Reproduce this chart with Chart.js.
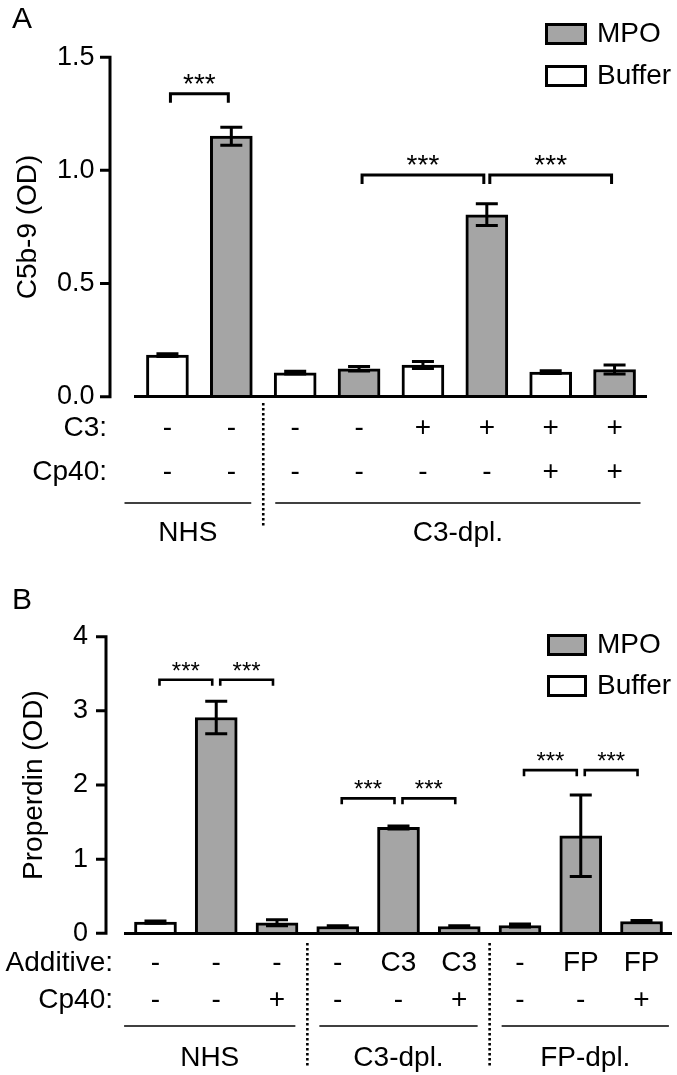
<!DOCTYPE html>
<html>
<head>
<meta charset="utf-8">
<script src="https://cdn.jsdelivr.net/npm/chart.js@4.4.0/dist/chart.umd.min.js"></script>
<style>
  html, body { margin: 0; padding: 0; background: #fff; }
  .panel { position: absolute; left: 0; width: 677px; }
  #wrapA { top: 0; height: 560px; }
  #wrapB { top: 560px; height: 515px; }
</style>
</head>
<body>
<div class="panel" id="wrapA"><canvas id="chartA" width="677" height="560"></canvas></div>
<div class="panel" id="wrapB"><canvas id="chartB" width="677" height="515"></canvas></div>
<script>
// ---- Panel A: C5b-9 (OD) ----
const aTreatment = ['Buffer', 'MPO', 'Buffer', 'MPO', 'Buffer', 'MPO', 'Buffer', 'MPO'];
const aC3 = ['-', '-', '-', '-', '+', '+', '+', '+'];
const aCp40 = ['-', '-', '-', '-', '-', '-', '+', '+'];
const aMeans = [0.184, 1.151, 0.106, 0.123, 0.140, 0.804, 0.109, 0.120];
const aErrors = [0.006, 0.040, 0.006, 0.010, 0.015, 0.048, 0.006, 0.020];
const aGroups = ['NHS', 'C3-dpl.'];
const aGroupRanges = [[0, 1], [2, 7]];
const aBrackets = [[0, 1, 1.338], [3, 5, 0.98], [5, 7, 0.98]]; // from bar, to bar, height
const aTicks = [0, 0.5, 1.0, 1.5];

// ---- Panel B: Properdin (OD) ----
const bTreatment = ['Buffer', 'MPO', 'MPO', 'MPO', 'MPO', 'MPO', 'MPO', 'MPO', 'MPO'];
const bAdditive = ['-', '-', '-', '-', 'C3', 'C3', '-', 'FP', 'FP'];
const bCp40 = ['-', '-', '+', '-', '-', '+', '-', '-', '+'];
const bMeans = [0.150, 2.91, 0.142, 0.092, 1.428, 0.092, 0.105, 1.316, 0.159];
const bErrors = [0.015, 0.22, 0.040, 0.010, 0.020, 0.010, 0.020, 0.55, 0.015];
const bGroups = ['NHS', 'C3-dpl.', 'FP-dpl.'];
const bGroupRanges = [[0, 2], [3, 5], [6, 8]];
const bBrackets = [[0, 1, 3.42], [1, 2, 3.42], [3, 4, 1.82], [4, 5, 1.82], [6, 7, 2.20], [7, 8, 2.20]];
const bTicks = [0, 1, 2, 3, 4];

const FONT = "'Liberation Sans', Arial, Helvetica, sans-serif";
const GREY = '#a5a5a5';
Chart.defaults.font.family = FONT;
Chart.defaults.color = '#000';

function onlyFor(name, treatment, values) {
  return values.map((v, i) => (treatment[i] === name ? v : null));
}

// extra drawing: y axis line, error bars, brackets, group labels, legend
const decor = {
  id: 'panelDecor',
  afterDatasetsDraw(chart, args, o) {
    const ctx = chart.ctx;
    const y = chart.scales.y;
    ctx.save();
    ctx.strokeStyle = '#000';
    ctx.lineWidth = 3;
    chart.data.datasets.forEach((ds, di) => {
      const meta = chart.getDatasetMeta(di);
      ds.data.forEach((v, i) => {
        if (v == null) return;
        const x = meta.data[i].x;
        const yTop = y.getPixelForValue(v + ds.errors[i]);
        const yBot = y.getPixelForValue(v - ds.errors[i]);
        ctx.beginPath();
        ctx.moveTo(x, yTop); ctx.lineTo(x, yBot);
        ctx.moveTo(x - 11, yTop); ctx.lineTo(x + 11, yTop);
        ctx.moveTo(x - 11, yBot); ctx.lineTo(x + 11, yBot);
        ctx.stroke();
      });
    });
    ctx.restore();
  },
  afterDraw(chart, args, o) {
    const ctx = chart.ctx;
    const xs = chart.scales.x, ys = chart.scales.y;
    const area = chart.chartArea;
    ctx.save();
    ctx.strokeStyle = '#000';
    ctx.fillStyle = '#000';

    // detached y axis with ticks
    const top = ys.getPixelForValue(ys.max), bottom = ys.getPixelForValue(0);
    ctx.lineWidth = 3;
    ctx.beginPath();
    ctx.moveTo(o.axisX, top - 1.5); ctx.lineTo(o.axisX, bottom + 1.5);
    ys.ticks.forEach(t => {
      const py = ys.getPixelForValue(t.value);
      ctx.moveTo(o.axisX - o.tickLen, py); ctx.lineTo(o.axisX, py);
    });
    ctx.stroke();

    // significance brackets
    ctx.lineWidth = o.bracketWidth;
    ctx.lineJoin = 'miter';
    ctx.textAlign = 'center';
    ctx.textBaseline = 'alphabetic';
    ctx.font = o.starSize + 'px ' + FONT;
    o.brackets.forEach(([a, b, v]) => {
      const x1 = xs.getPixelForValue(a) + o.bracketInset;
      const x2 = xs.getPixelForValue(b) - o.bracketInset;
      const py = ys.getPixelForValue(v);
      ctx.beginPath();
      ctx.moveTo(x1, py + o.leg); ctx.lineTo(x1, py); ctx.lineTo(x2, py); ctx.lineTo(x2, py + o.leg);
      ctx.stroke();
      ctx.fillText('***', (x1 + x2) / 2, py - 1);
    });

    // row headers for the x tick label rows
    const row1 = xs.top + o.xTickPad + o.rowGap / 2;
    ctx.font = '28px ' + FONT;
    ctx.textAlign = 'right';
    ctx.textBaseline = 'middle';
    ctx.fillText(o.rowNames[0], o.rowHeadX, row1);
    ctx.fillText(o.rowNames[1], o.rowHeadX, row1 + o.rowGap);

    // group lines, names and dotted separators
    const last = chart.data.labels.length - 1;
    ctx.textAlign = 'center';
    o.groupRanges.forEach(([a, b], gi) => {
      let left = xs.getPixelForValue(a - 0.5) + (a === 0 ? o.outerLeft : 12);
      let right = xs.getPixelForValue(b + 0.5) - (b === last ? o.outerRight : 12);
      const ly = area.bottom + o.groupLineDy;
      ctx.lineWidth = 1.7;
      ctx.beginPath();
      ctx.moveTo(left, ly); ctx.lineTo(right, ly);
      ctx.stroke();
      ctx.fillText(o.groups[gi], (left + right) / 2, area.bottom + o.groupTextDy);
      if (b !== last) {
        const sx = xs.getPixelForValue(b + 0.5);
        ctx.save();
        ctx.lineWidth = 2.6;
        ctx.setLineDash([2.6, 2.4]);
        ctx.beginPath();
        ctx.moveTo(sx, area.bottom + o.sepTop); ctx.lineTo(sx, area.bottom + o.sepBottom);
        ctx.stroke();
        ctx.restore();
      }
    });

    // legend
    ctx.textAlign = 'left';
    chart.data.datasets.forEach((ds, di) => {
      const by = o.legendY + di * o.legendGap;
      ctx.fillStyle = ds.backgroundColor;
      ctx.fillRect(o.legendX, by, o.boxW, 22);
      ctx.lineWidth = 3;
      ctx.strokeRect(o.legendX + 1.5, by + 1.5, o.boxW - 3, 19);
      ctx.fillStyle = '#000';
      ctx.fillText(ds.label, 597, by + 11);
    });

    // panel letter
    ctx.font = '30px ' + FONT;
    ctx.textBaseline = 'alphabetic';
    ctx.fillText(o.letter, 12, o.letterY);
    ctx.restore();
  }
};

function makePanel(id, p) {
  return new Chart(document.getElementById(id), {
    type: 'bar',
    data: {
      labels: p.rows[0].map((v, i) => [v, p.rows[1][i]]),
      datasets: ['MPO', 'Buffer'].map(name => ({
        label: name,
        data: onlyFor(name, p.treatment, p.means),
        errors: onlyFor(name, p.treatment, p.errors),
        backgroundColor: name === 'MPO' ? GREY : '#ffffff',
        borderColor: '#000',
        borderWidth: 3,
        barThickness: 42,
        grouped: false
      }))
    },
    options: {
      responsive: false,
      animation: false,
      layout: { padding: { top: p.padTop, right: p.padRight, left: 0, bottom: 0 } },
      plugins: {
        legend: { display: false },
        tooltip: { enabled: false },
        panelDecor: p.decor
      },
      scales: {
        x: {
          grid: { display: false, drawTicks: false },
          border: { display: true, color: '#000', width: 3, z: 1 },
          ticks: {
            autoSkip: false, maxRotation: 0, minRotation: 0,
            padding: p.decor.xTickPad,
            font: { size: 28, lineHeight: p.decor.rowGap / 28 }
          },
          afterFit: s => { s.height = p.xHeight; }
        },
        y: {
          min: 0,
          max: p.yMax,
          grid: { display: false, drawTicks: false },
          border: { display: false },
          afterBuildTicks: s => { s.ticks = p.ticks.map(v => ({ value: v })); },
          ticks: { padding: p.yTickPad, font: { size: 27 }, callback: p.fmt },
          title: { display: true, text: p.yTitle, font: { size: 28 }, padding: { top: p.titlePad, bottom: 0 } },
          afterFit: s => { s.width = p.yWidth; }
        }
      }
    },
    plugins: [decor]
  });
}

makePanel('chartA', {
  treatment: aTreatment, means: aMeans, errors: aErrors,
  rows: [aC3, aCp40], ticks: aTicks, yMax: 1.5, fmt: v => Number(v).toFixed(1),
  yTitle: 'C5b-9 (OD)', titlePad: 11,
  padTop: 41.7, padRight: 30.5, xHeight: 163.3, yWidth: 135.5, yTickPad: 41,
  decor: {
    letter: 'A', letterY: 28,
    axisX: 110, tickLen: 10,
    brackets: aBrackets, bracketWidth: 3, bracketInset: 3, leg: 9, starSize: 28,
    rowNames: ['C3:', 'Cp40:'], rowHeadX: 107, xTickPad: 9.3, rowGap: 44,
    groups: aGroups, groupRanges: aGroupRanges, outerLeft: -11, outerRight: 6,
    groupLineDy: 106.3, groupTextDy: 136.5, sepTop: 6.3, sepBottom: 130.3,
    legendX: 545, legendY: 23, legendGap: 42, boxW: 42
  }
});

makePanel('chartB', {
  treatment: bTreatment, means: bMeans, errors: bErrors,
  rows: [bAdditive, bCp40], ticks: bTicks, yMax: 4, fmt: v => String(v),
  yTitle: 'Properdin (OD)', titlePad: 17,
  padTop: 76.7, padRight: 5.1, xHeight: 141.7, yWidth: 125.1, yTickPad: 37,
  decor: {
    letter: 'B', letterY: 49,
    axisX: 106, tickLen: 10,
    brackets: bBrackets, bracketWidth: 2.6, bracketInset: 4, leg: 6, starSize: 24,
    rowNames: ['Additive:', 'Cp40:'], rowHeadX: 113, xTickPad: 11.3, rowGap: 37,
    groups: bGroups, groupRanges: bGroupRanges, outerLeft: -1, outerRight: 3,
    groupLineDy: 92.7, groupTextDy: 124.7, sepTop: 9.7, sepBottom: 133.7,
    legendX: 547, legendY: 74, legendGap: 41, boxW: 40
  }
});
</script>
</body>
</html>
